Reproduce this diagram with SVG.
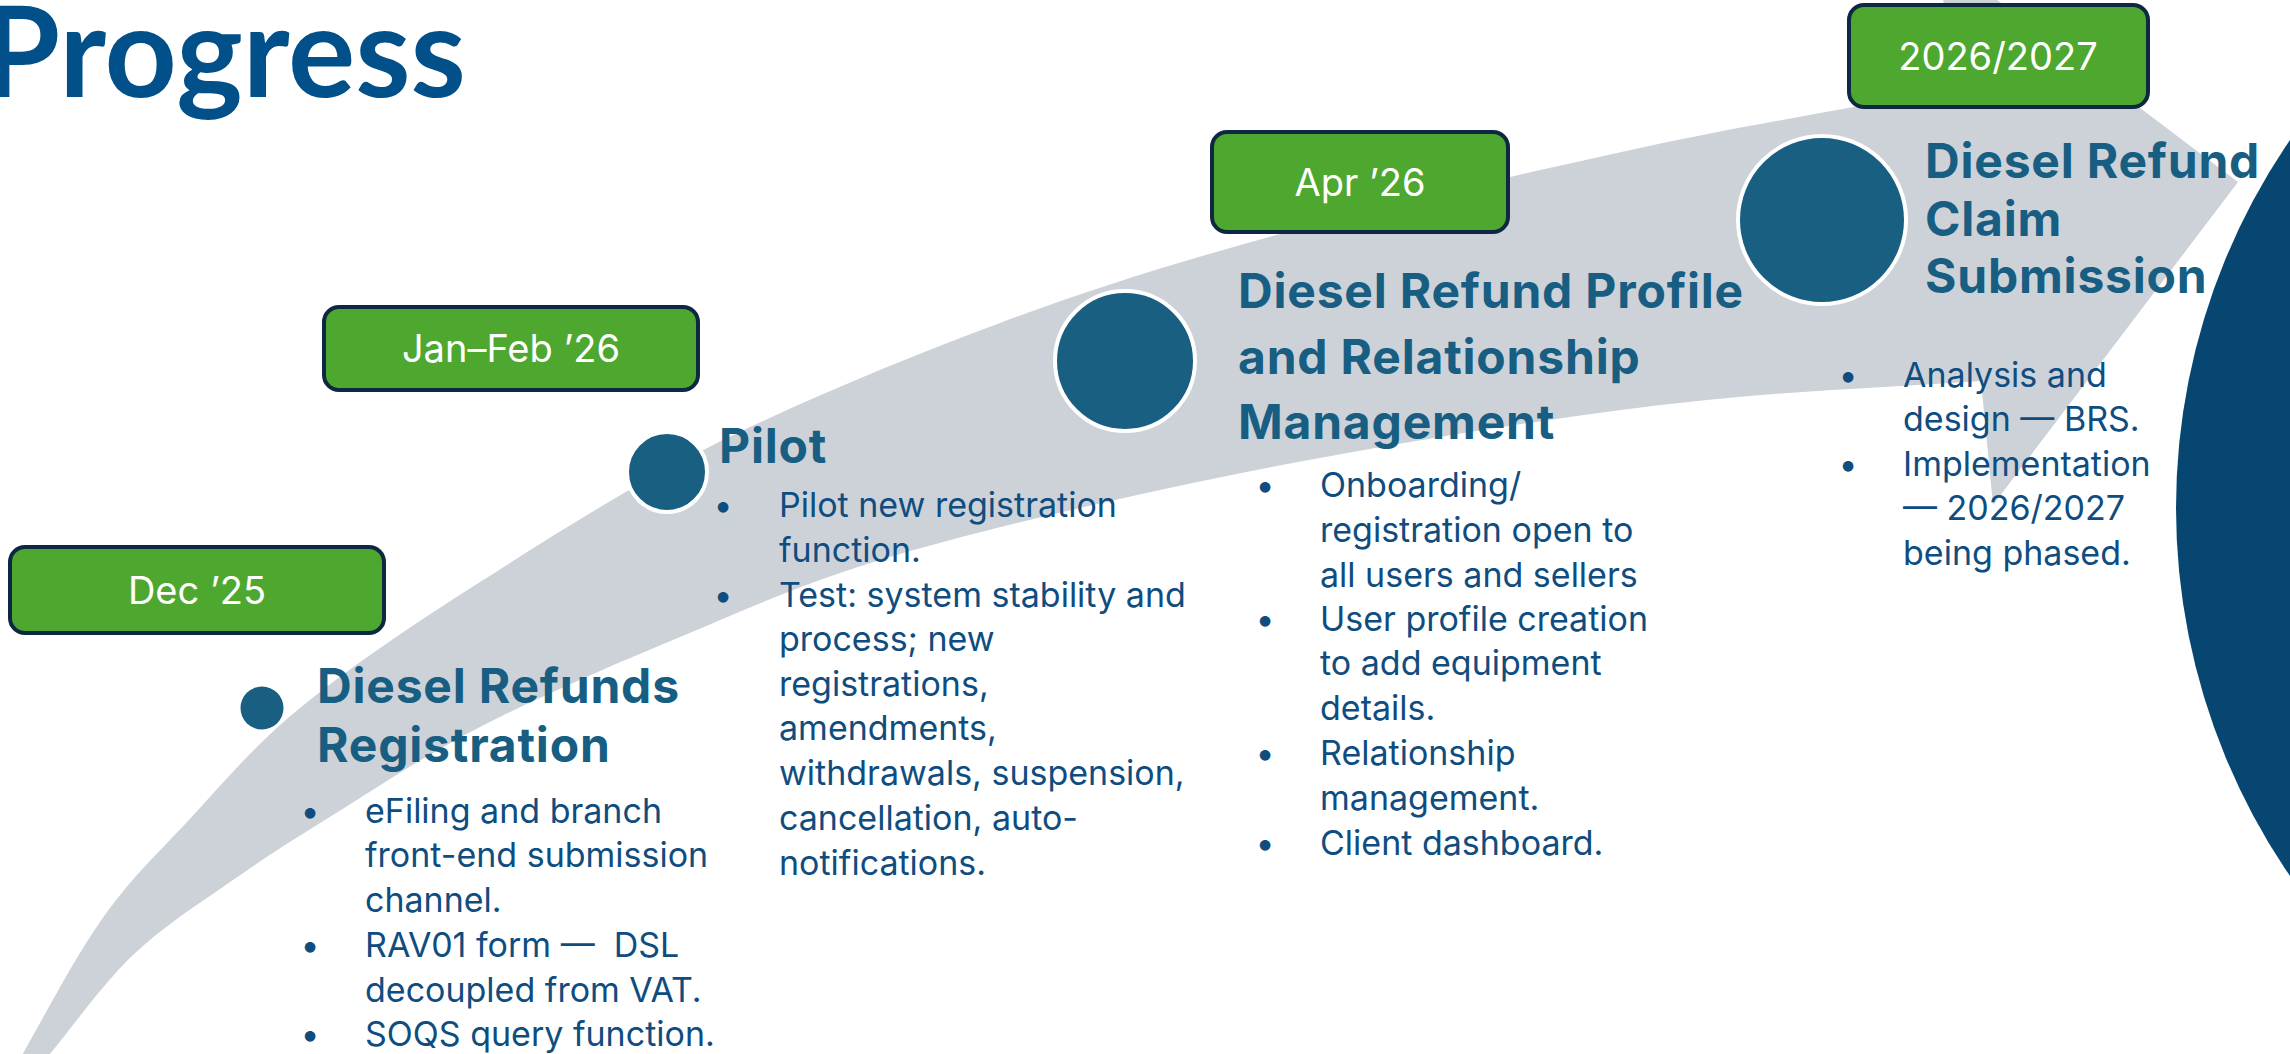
<svg xmlns="http://www.w3.org/2000/svg" width="2290" height="1054" viewBox="0 0 2290 1054">
  <style>
    .band { fill: #CDD2D9; }
    .disc { fill: #064670; }
    .box { fill: #4EA72E; stroke: #0E2841; stroke-width: 4; }
    .lbl { font-family: Inter, "Liberation Sans", sans-serif; font-size: 38px; fill: #FFFFFF; text-anchor: middle; }
    .dot { fill: #185F82; stroke: #FFFFFF; stroke-width: 4; }
    .hd { font-family: Inter, "Liberation Sans", sans-serif; font-weight: 700; font-size: 48px; letter-spacing: 0.8px; fill: #175E82; }
    .tx { font-family: Inter, "Liberation Sans", sans-serif; font-size: 34px; fill: #0F4D80; }
    .bu { text-anchor: middle; }
    .title { font-family: Lato, "Liberation Sans", sans-serif; font-weight: 700; font-size: 126px; fill: #02508A; text-anchor: end; }
  </style>

  <rect width="2290" height="1054" fill="#FFFFFF"/>

  <!-- large backdrop disc on the right edge -->
  <circle class="disc" cx="2827" cy="508" r="651"/>

  <!-- curved timeline arrow -->
  <g id="connectors">
    <path class="band" d="M 9,1078
      C 39.3,1026 70.3,964.7 100,922
      C 129.7,879.3 153.7,857.7 187,822
      C 220.3,786.3 251.2,748 300,708
      C 348.8,668 411.2,625.8 480,582
      C 548.8,538.2 626.3,488.2 713,445
      C 799.7,401.8 905.5,358.2 1000,323
      C 1094.5,287.8 1173.3,263.2 1280,234
      C 1386.7,204.8 1528,172.2 1640,148
      C 1752,123.8 1848,108.7 1952,89
      L 1939,-44 L 2238,182 L 1993,505 L 1981,381
      C 1889.7,387.3 1797.2,390.7 1707,400
      C 1616.8,409.3 1531.2,422 1440,437
      C 1348.8,452 1253.3,469.5 1160,490
      C 1066.7,510.5 960,535.5 880,560
      C 800,584.5 746.7,609.2 680,637
      C 613.3,664.8 537.8,697.3 480,727
      C 422.2,756.7 374.2,789.5 333,815
      C 291.8,840.5 266.3,856.7 233,880
      C 199.7,903.3 163.5,926 133,955
      C 102.5,984 67.2,1033.5 50,1054
      L 30,1078 Z"/>
  </g>

  <text class="title" x="466" y="97">Progress</text>

  <!-- milestone 1 -->
  <g id="registration">
    <rect class="box" x="10" y="547" width="374" height="86" rx="15"/>
    <text class="lbl" x="197" y="604">Dec ’25</text>
    <circle cx="262" cy="708" r="21.5" fill="#185F82"/>
    <text class="hd"><tspan x="317" y="703">Diesel Refunds</tspan><tspan x="317" y="762">Registration</tspan></text>
    <text class="tx bu" x="310" y="823">•</text>
    <text class="tx bu" x="310" y="957">•</text>
    <text class="tx bu" x="310" y="1046">•</text>
    <text class="tx">
      <tspan x="365" y="823">eFiling and branch</tspan>
      <tspan x="365" y="867">front-end submission</tspan>
      <tspan x="365" y="912">channel.</tspan>
      <tspan x="365" y="957">RAV01 form —&#160; DSL</tspan>
      <tspan x="365" y="1002">decoupled from VAT.</tspan>
      <tspan x="365" y="1046">SOQS query function.</tspan>
    </text>
  </g>

  <!-- milestone 2 -->
  <g id="pilot">
    <rect class="box" x="324" y="307" width="374" height="83" rx="15"/>
    <text class="lbl" x="511" y="362">Jan–Feb ’26</text>
    <circle class="dot" cx="667" cy="472" r="40"/>
    <text class="hd" x="719" y="463">Pilot</text>
    <text class="tx bu" x="723" y="517">•</text>
    <text class="tx bu" x="723" y="607">•</text>
    <text class="tx">
      <tspan x="779" y="517">Pilot new registration</tspan>
      <tspan x="779" y="562">function.</tspan>
      <tspan x="779" y="607">Test: system stability and</tspan>
      <tspan x="779" y="651">process; new</tspan>
      <tspan x="779" y="696">registrations,</tspan>
      <tspan x="779" y="740">amendments,</tspan>
      <tspan x="779" y="785">withdrawals, suspension,</tspan>
      <tspan x="779" y="830">cancellation, auto-</tspan>
      <tspan x="779" y="875">notifications.</tspan>
    </text>
  </g>

  <!-- milestone 3 -->
  <g id="profile">
    <rect class="box" x="1212" y="132" width="296" height="100" rx="15"/>
    <text class="lbl" x="1360" y="196">Apr ’26</text>
    <circle class="dot" cx="1125" cy="361" r="70"/>
    <text class="hd">
      <tspan x="1238" y="308">Diesel Refund Profile</tspan>
      <tspan x="1238" y="374">and Relationship</tspan>
      <tspan x="1238" y="439">Management</tspan>
    </text>
    <text class="tx bu" x="1265" y="497">•</text>
    <text class="tx bu" x="1265" y="631">•</text>
    <text class="tx bu" x="1265" y="765">•</text>
    <text class="tx bu" x="1265" y="855">•</text>
    <text class="tx">
      <tspan x="1320" y="497">Onboarding/</tspan>
      <tspan x="1320" y="542">registration open to</tspan>
      <tspan x="1320" y="587">all users and sellers</tspan>
      <tspan x="1320" y="631">User profile creation</tspan>
      <tspan x="1320" y="675">to add equipment</tspan>
      <tspan x="1320" y="720">details.</tspan>
      <tspan x="1320" y="765">Relationship</tspan>
      <tspan x="1320" y="810">management.</tspan>
      <tspan x="1320" y="855">Client dashboard.</tspan>
    </text>
  </g>

  <!-- milestone 4 -->
  <g id="claim">
    <rect class="box" x="1849" y="5" width="299" height="102" rx="15"/>
    <text class="lbl" x="1998" y="70">2026/2027</text>
    <circle class="dot" cx="1822" cy="220" r="84"/>
    <text class="hd">
      <tspan x="1925" y="178">Diesel Refund</tspan>
      <tspan x="1925" y="236">Claim</tspan>
      <tspan x="1925" y="293">Submission</tspan>
    </text>
    <text class="tx bu" x="1848" y="387">•</text>
    <text class="tx bu" x="1848" y="476">•</text>
    <text class="tx">
      <tspan x="1903" y="387">Analysis and</tspan>
      <tspan x="1903" y="431">design — BRS.</tspan>
      <tspan x="1903" y="476">Implementation</tspan>
      <tspan x="1903" y="520">— 2026/2027</tspan>
      <tspan x="1903" y="565">being phased.</tspan>
    </text>
  </g>
</svg>
